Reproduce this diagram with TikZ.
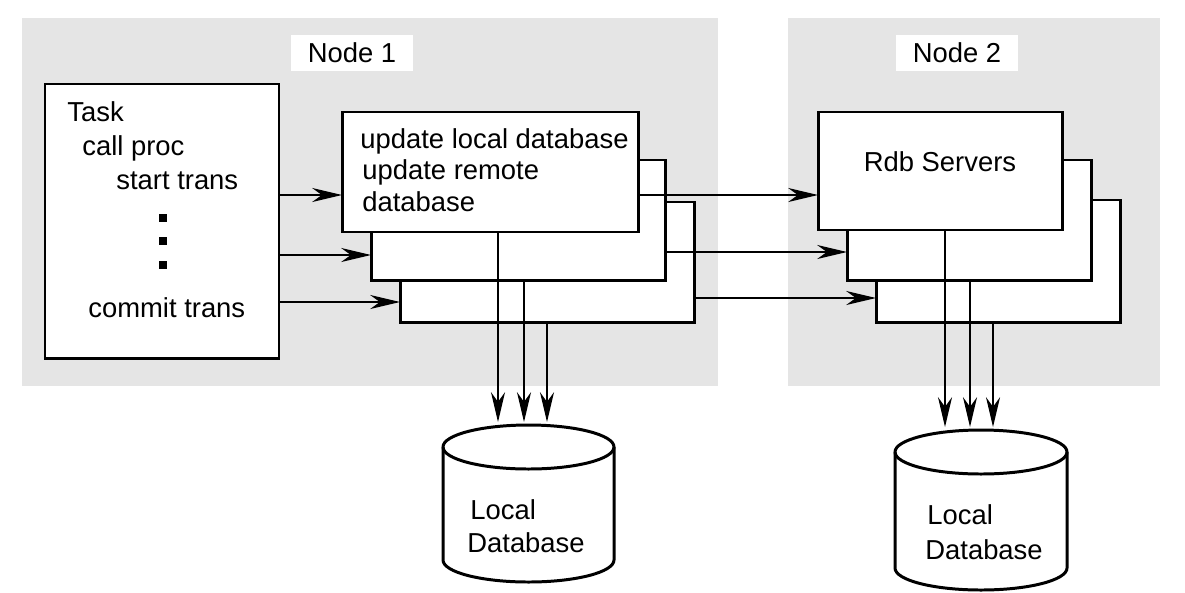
\documentclass[tikz,border=0pt]{standalone}
\usepackage{fontspec}
\setmainfont{Liberation Sans}
\usetikzlibrary{arrows.meta}
\begin{document}
\begin{tikzpicture}[x=0.02cm,y=-0.02cm,
  panel/.style={fill=gray!20,draw=none},
  lbl/.style={fill=white,inner sep=0pt,font=\fontsize{15.6}{18}\selectfont},
  box/.style={draw,line width=1.7pt,fill=white},
  txt/.style={anchor=west,inner sep=0pt,font=\fontsize{15.6}{18}\selectfont},
  arr/.style={-{Stealth[length=17pt,width=8pt]},line width=0.8pt}]
\useasboundingbox (0,0) rectangle (1185,592);
\fill[panel] (22,18) rectangle (718,386);
\fill[panel] (788,18) rectangle (1160,386);
\node[lbl,minimum width=2.44cm,minimum height=0.74cm] (n1) at (352,53) {Node 1};
\node[lbl,minimum width=2.44cm,minimum height=0.74cm] (n2) at (957,53) {Node 2};
% task
\draw[box] (45,84) rectangle (279,358);
\node[txt] (t1) at (67,112) {Task};
\node[txt] (t2) at (82,148) {call proc};
\node[txt] (t3) at (116,181) {start trans};
\foreach \y in {218,241,265}{\fill (159,\y-4) rectangle (167,\y+4);}
\node[txt] (t4) at (88,308) {commit trans};
% stack node1
\draw[box] (400,202) rectangle (694,322);
\draw[box] (371,160) rectangle (665,280);
\draw[box] (342,112) rectangle (638,232);
\node[txt] (u1) at (360,141) {update local database};
\node[txt] (u2) at (362,172) {update remote};
\node[txt] (u3) at (362,202) {database};
% stack node2
\draw[box] (876,200) rectangle (1120,322);
\draw[box] (847,160) rectangle (1091,280);
\draw[box] (818,112) rectangle (1062,230);
\node[font=\fontsize{15.6}{18}\selectfont] (rdb) at (940,162) {Rdb Servers};
% horizontal arrows
\draw[arr] (279,195) -- (342,195);
\draw[arr] (279,255) -- (371,255);
\draw[arr] (279,302) -- (400,302);
\draw[arr] (638,195) -- (818,195);
\draw[arr] (665,252) -- (847,252);
\draw[arr] (694,298) -- (876,298);
% cylinders
\draw[line width=1.7pt,fill=white] (443,447) -- (443,560) arc[start angle=180,end angle=0,x radius=85.5,y radius=22] -- (614,447) arc[start angle=0,end angle=-180,x radius=85.5,y radius=22];
\draw[line width=1.7pt] (443,447) arc[start angle=180,end angle=0,x radius=85.5,y radius=22];
\node[txt] (l1) at (470,510) {Local};
\node[txt] (l2) at (467,543) {Database};
\draw[line width=1.7pt,fill=white] (895,452) -- (895,568) arc[start angle=180,end angle=0,x radius=86,y radius=22] -- (1067,452) arc[start angle=0,end angle=-180,x radius=86,y radius=22];
\draw[line width=1.7pt] (895,452) arc[start angle=180,end angle=0,x radius=86,y radius=22];
\node[txt] (l3) at (927,515) {Local};
\node[txt] (l4) at (925,550) {Database};
% vertical arrows
\draw[arr] (498,232) -- (498,422);
\draw[arr] (524,280) -- (524,422);
\draw[arr] (547,322) -- (547,422);
\draw[arr] (945,230) -- (945,427);
\draw[arr] (970,280) -- (970,427);
\draw[arr] (993,322) -- (993,427);
\end{tikzpicture}
\end{document}
